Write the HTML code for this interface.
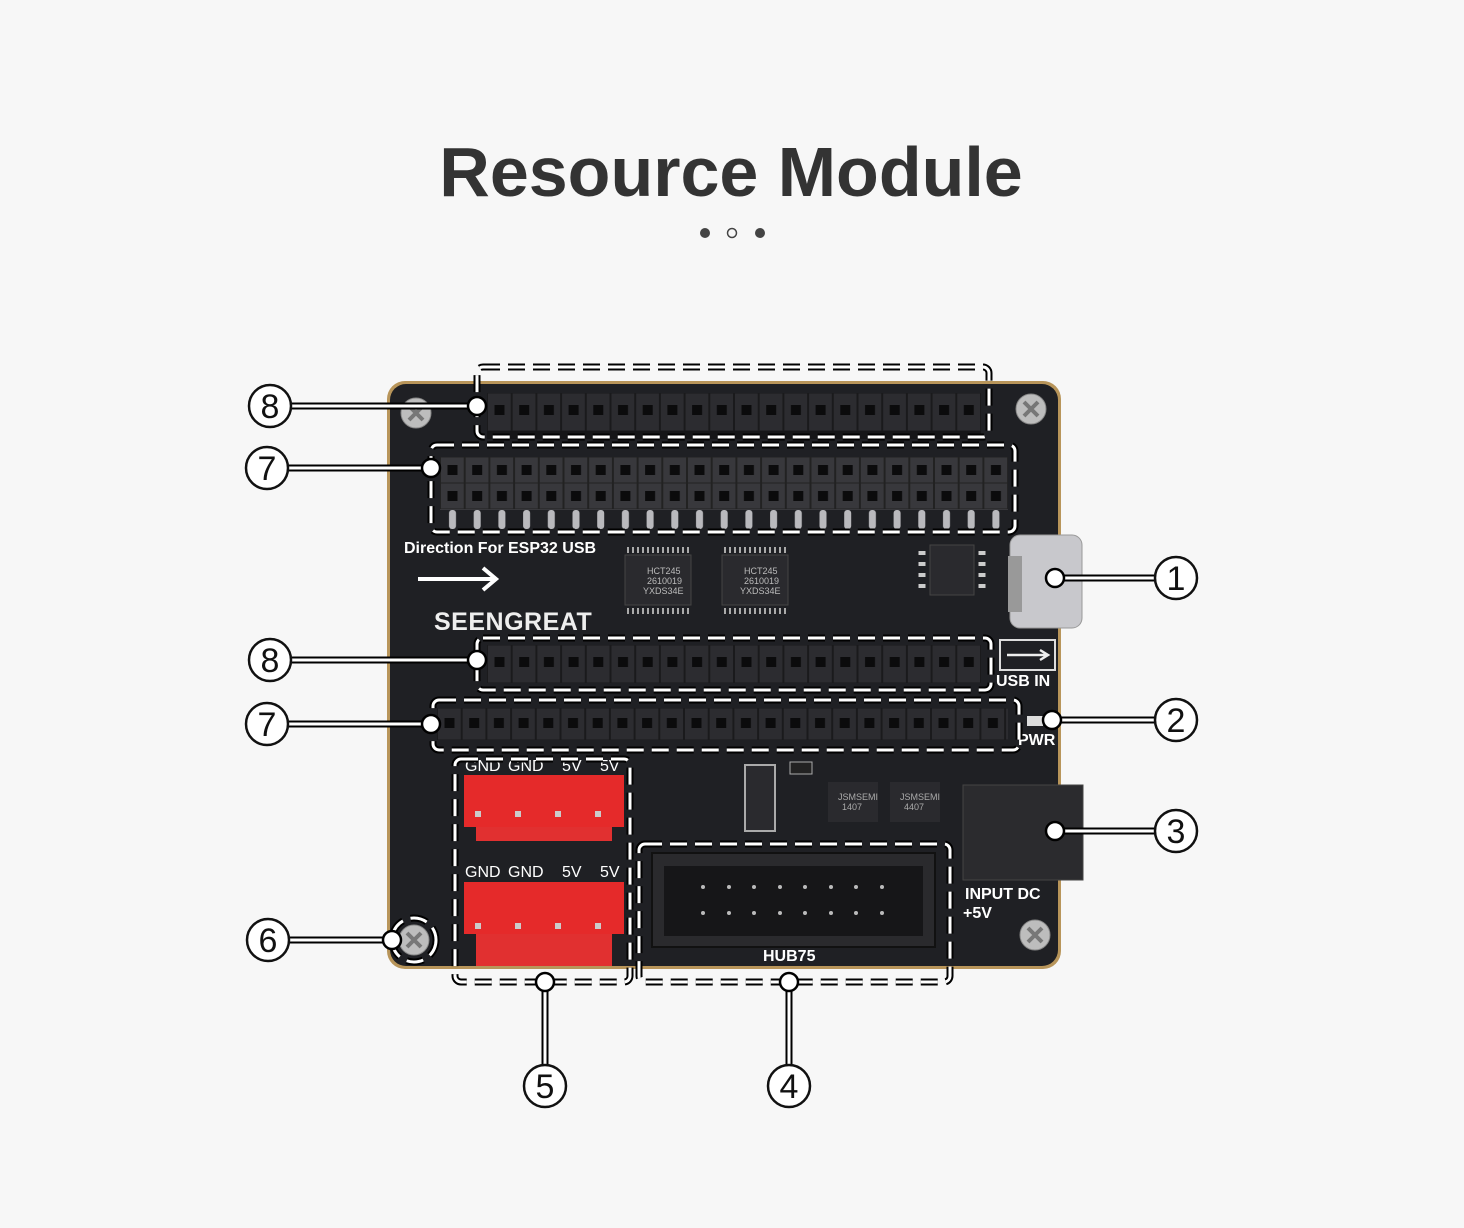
<!DOCTYPE html>
<html><head><meta charset="utf-8"><style>
html,body{margin:0;padding:0;background:#f7f7f7;}
body{width:1464px;height:1228px;overflow:hidden;position:relative;font-family:"Liberation Sans",sans-serif;}
</style></head><body>
<svg width="1464" height="1228" viewBox="0 0 1464 1228" xmlns="http://www.w3.org/2000/svg" style="position:absolute;left:0;top:0">
<defs>
<pattern id="s1" x="487" y="393" width="24.7" height="38" patternUnits="userSpaceOnUse">
 <rect x="0.5" y="0" width="23.7" height="38" fill="#2c2c30" stroke="#1a1a1c"/>
 <rect x="7.5" y="12" width="10" height="10" fill="#0b0b0c"/>
</pattern>
<pattern id="s2" x="440" y="457" width="24.7" height="26" patternUnits="userSpaceOnUse">
 <rect x="0.5" y="0" width="23.7" height="26" fill="#38383c" stroke="#222"/>
 <rect x="7.5" y="8" width="10" height="10" fill="#0b0b0c"/>
</pattern>
<pattern id="p2" x="440" y="510" width="24.7" height="20" patternUnits="userSpaceOnUse">
 <rect x="9" y="0" width="7" height="19" rx="3" fill="#b9b9bd"/>
</pattern>
<pattern id="s3" x="487" y="645" width="24.7" height="38" patternUnits="userSpaceOnUse">
 <rect x="0.5" y="0" width="23.7" height="38" fill="#2c2c30" stroke="#1a1a1c"/>
 <rect x="7.5" y="12" width="10" height="10" fill="#0b0b0c"/>
</pattern>
<pattern id="s4" x="437" y="708" width="24.7" height="32" patternUnits="userSpaceOnUse">
 <rect x="0.5" y="0" width="23.7" height="32" fill="#2c2c30" stroke="#1a1a1c"/>
 <rect x="7.5" y="10" width="10" height="10" fill="#0b0b0c"/>
</pattern>
</defs>

<text x="731" y="196" text-anchor="middle" font-size="70" font-weight="bold" fill="#333" font-family="Liberation Sans, sans-serif">Resource Module</text>
<circle cx="705" cy="233" r="5" fill="#444"/>
<circle cx="732" cy="233" r="4.5" fill="none" stroke="#444" stroke-width="1.5"/>
<circle cx="760" cy="233" r="5" fill="#444"/>

<rect x="387" y="381" width="674" height="588" rx="18" fill="#b8955a"/>
<rect x="390" y="384" width="668" height="582" rx="16" fill="#1f2024"/>
<g fill="#bdbdbd" stroke="#888"><circle cx="416" cy="413" r="15"/><circle cx="1031" cy="409" r="15"/><circle cx="1035" cy="935" r="15"/><circle cx="414" cy="940" r="15"/></g>
<g stroke="#777" stroke-width="4"><path d="M409 406l14 14M423 406l-14 14"/><path d="M1024 402l14 14M1038 402l-14 14"/><path d="M1028 928l14 14M1042 928l-14 14"/><path d="M407 933l14 14M421 933l-14 14"/></g>

<rect x="487" y="393" width="494" height="38" fill="url(#s1)"/>
<rect x="487" y="431" width="494" height="8" fill="#161618"/>
<rect x="440" y="457" width="568" height="53" fill="#38383c"/>
<rect x="440" y="457" width="568" height="26" fill="url(#s2)"/>
<rect x="440" y="483" width="568" height="26" fill="url(#s2)"/>
<rect x="440" y="510" width="568" height="20" fill="url(#p2)"/>
<rect x="487" y="645" width="494" height="38" fill="url(#s3)"/>
<rect x="437" y="708" width="571" height="32" fill="url(#s4)"/>

<text x="404" y="553" font-size="16" fill="#fff" font-weight="bold">Direction For ESP32 USB</text>
<path d="M418 579h75" stroke="#fff" stroke-width="4"/><path d="M483 568l13 11-13 11" fill="none" stroke="#fff" stroke-width="4"/>
<text x="434" y="630" font-size="25" fill="#eee" font-weight="bold" letter-spacing="0.5">SEENGREAT</text>
<rect x="625" y="555" width="66" height="50" fill="#2a2a2e" stroke="#444"/>
<rect x="722" y="555" width="66" height="50" fill="#2a2a2e" stroke="#444"/>
<g font-size="9" fill="#bbb"><text x="647" y="574">HCT245</text><text x="647" y="584">2610019</text><text x="643" y="594">YXDS34E</text>
<text x="744" y="574">HCT245</text><text x="744" y="584">2610019</text><text x="740" y="594">YXDS34E</text></g>
<path d="M627 550h62M627 611h62M724 550h62M724 611h62" stroke="#aaa" stroke-width="6" stroke-dasharray="2 3"/>
<rect x="930" y="545" width="44" height="50" fill="#2a2a2e" stroke="#444"/>
<path d="M922 551v40M982 551v40" stroke="#ccc" stroke-width="7" stroke-dasharray="4 7"/>
<rect x="1010" y="535" width="72" height="93" rx="10" fill="#c8c8cc" stroke="#999"/>
<rect x="1008" y="556" width="14" height="56" fill="#999"/>
<rect x="1000" y="640" width="55" height="30" fill="none" stroke="#ddd" stroke-width="2"/>
<path d="M1007 655h40M1040 650l8 5-8 5" stroke="#eee" stroke-width="2.5" fill="none"/>
<text x="996" y="686" font-size="16" fill="#fff" font-weight="bold">USB IN</text>
<text x="1018" y="745" font-size="16" fill="#fff" font-weight="bold">PWR</text>
<rect x="1027" y="716" width="16" height="10" fill="#ddd"/>
<rect x="745" y="765" width="30" height="66" fill="#2a2a2e" stroke="#aaa" stroke-width="2"/>
<rect x="790" y="762" width="22" height="12" fill="#222" stroke="#aaa"/>
<rect x="828" y="782" width="50" height="40" fill="#2a2a2e"/><rect x="890" y="782" width="50" height="40" fill="#2a2a2e"/>
<g font-size="9" fill="#aaa"><text x="838" y="800">JSMSEMI</text><text x="842" y="810">1407</text><text x="900" y="800">JSMSEMI</text><text x="904" y="810">4407</text></g>
<rect x="963" y="785" width="120" height="95" fill="#2b2b2e" stroke="#444"/>
<text x="965" y="899" font-size="16" fill="#fff" font-weight="bold">INPUT DC</text>
<text x="963" y="918" font-size="16" fill="#fff" font-weight="bold">+5V</text>
<g font-size="16" fill="#fff"><text x="465" y="771">GND</text><text x="508" y="771">GND</text><text x="562" y="771">5V</text><text x="600" y="771">5V</text>
<text x="465" y="877">GND</text><text x="508" y="877">GND</text><text x="562" y="877">5V</text><text x="600" y="877">5V</text></g>
<rect x="464" y="775" width="160" height="52" fill="#e52a2a"/><rect x="476" y="827" width="136" height="14" fill="#e13030"/>
<rect x="464" y="882" width="160" height="52" fill="#e52a2a"/><rect x="476" y="934" width="136" height="32" fill="#e13030"/>
<g fill="#ccc"><rect x="475" y="811" width="6" height="6"/><rect x="515" y="811" width="6" height="6"/><rect x="555" y="811" width="6" height="6"/><rect x="595" y="811" width="6" height="6"/>
<rect x="475" y="923" width="6" height="6"/><rect x="515" y="923" width="6" height="6"/><rect x="555" y="923" width="6" height="6"/><rect x="595" y="923" width="6" height="6"/></g>
<rect x="652" y="853" width="283" height="94" fill="#2a2a2d" stroke="#111" stroke-width="2"/>
<rect x="664" y="866" width="259" height="70" fill="#161618"/>
<g fill="#bbb"><circle cx="703" cy="887" r="2"/><circle cx="729" cy="887" r="2"/><circle cx="754" cy="887" r="2"/><circle cx="780" cy="887" r="2"/><circle cx="805" cy="887" r="2"/><circle cx="831" cy="887" r="2"/><circle cx="856" cy="887" r="2"/><circle cx="882" cy="887" r="2"/>
<circle cx="703" cy="913" r="2"/><circle cx="729" cy="913" r="2"/><circle cx="754" cy="913" r="2"/><circle cx="780" cy="913" r="2"/><circle cx="805" cy="913" r="2"/><circle cx="831" cy="913" r="2"/><circle cx="856" cy="913" r="2"/><circle cx="882" cy="913" r="2"/></g>
<text x="763" y="961" font-size="16" fill="#fff" font-weight="bold">HUB75</text>

<g fill="none" stroke-dasharray="17 8">
<g stroke="#000" stroke-width="7">
<rect x="477" y="367" width="512" height="70" rx="6"/><rect x="431" y="445" width="584" height="87" rx="6"/>
<rect x="477" y="638" width="514" height="52" rx="6"/><rect x="433" y="700" width="586" height="50" rx="6"/>
<rect x="455" y="759" width="175" height="223" rx="6"/><rect x="639" y="844" width="311" height="138" rx="6"/>
<circle cx="414" cy="940" r="22"/></g>
<g stroke="#fff" stroke-width="3">
<rect x="477" y="367" width="512" height="70" rx="6"/><rect x="431" y="445" width="584" height="87" rx="6"/>
<rect x="477" y="638" width="514" height="52" rx="6"/><rect x="433" y="700" width="586" height="50" rx="6"/>
<rect x="455" y="759" width="175" height="223" rx="6"/><rect x="639" y="844" width="311" height="138" rx="6"/>
<circle cx="414" cy="940" r="22"/></g></g>

<g stroke="#000" stroke-width="7" fill="none">
<path d="M291 406H477M288 468H431M1155 578H1055M291 660H477M288 724H431M1155 720H1052M1155 831H1055M289 940H392M545 1065V982M789 1065V982"/></g>
<g stroke="#fff" stroke-width="3" fill="none">
<path d="M291 406H477M288 468H431M1155 578H1055M291 660H477M288 724H431M1155 720H1052M1155 831H1055M289 940H392M545 1065V982M789 1065V982"/></g>
<g fill="#fff" stroke="#000" stroke-width="2.5">
<circle cx="477" cy="406" r="9"/><circle cx="431" cy="468" r="9"/><circle cx="1055" cy="578" r="9"/><circle cx="477" cy="660" r="9"/><circle cx="431" cy="724" r="9"/><circle cx="1052" cy="720" r="9"/><circle cx="1055" cy="831" r="9"/><circle cx="392" cy="940" r="9"/><circle cx="545" cy="982" r="9"/><circle cx="789" cy="982" r="9"/></g>
<g fill="#fff" stroke="#111" stroke-width="2.5">
<circle cx="270" cy="406" r="21"/><circle cx="267" cy="468" r="21"/><circle cx="1176" cy="578" r="21"/><circle cx="270" cy="660" r="21"/><circle cx="267" cy="724" r="21"/><circle cx="1176" cy="720" r="21"/><circle cx="1176" cy="831" r="21"/><circle cx="268" cy="940" r="21"/><circle cx="545" cy="1086" r="21"/><circle cx="789" cy="1086" r="21"/></g>
<g font-size="34" fill="#111" text-anchor="middle" font-family="Liberation Sans, sans-serif">
<text x="270" y="418">8</text><text x="267" y="480">7</text><text x="1176" y="590">1</text><text x="270" y="672">8</text><text x="267" y="736">7</text><text x="1176" y="732">2</text><text x="1176" y="843">3</text><text x="268" y="952">6</text><text x="545" y="1098">5</text><text x="789" y="1098">4</text></g>
</svg>
</body></html>
